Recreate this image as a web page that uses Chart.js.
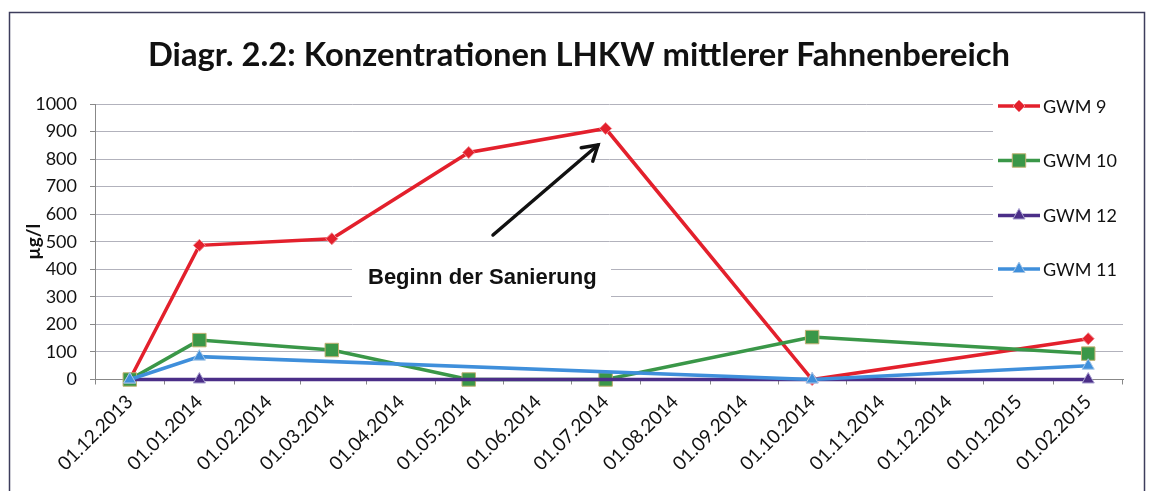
<!DOCTYPE html>
<html><head><meta charset="utf-8">
<script src="https://cdn.jsdelivr.net/npm/chart.js@4.4.1/dist/chart.umd.min.js"></script>
<style>html,body{margin:0;padding:0;background:#fff;overflow:hidden}canvas{display:block}</style>
</head><body>
<canvas id="c" width="1152" height="491"></canvas>
<script>
// ---- data ----
const chartTitle = 'Diagr. 2.2: Konzentrationen LHKW mittlerer Fahnenbereich';
const yAxisTitle = 'µg/l';
const annotationText = 'Beginn der Sanierung';
const tickLabels = ['01.12.2013','01.01.2014','01.02.2014','01.03.2014','01.04.2014','01.05.2014','01.06.2014','01.07.2014','01.08.2014','01.09.2014','01.10.2014','01.11.2014','01.12.2014','01.01.2015','01.02.2015'];
const sampleDates = ['01.12.2013','01.01.2014','01.03.2014','01.05.2014','01.07.2014','01.10.2014','01.02.2015'];
const seriesNames = ['GWM 9','GWM 10','GWM 12','GWM 11'];
const gwm9  = [0, 487, 511, 824, 911, 0, 148];
const gwm10 = [0, 143, 107, 0, 0, 154, 94];
const gwm12 = [0, 0, null, null, null, 0, 0];
const gwm11 = [0, 83, null, null, null, 0, 50];
const yMin = 0, yMax = 1000, yStep = 100;

function dayNum(s){ const p = s.split('.').map(Number); return Date.UTC(p[2], p[1]-1, p[0]) / 86400000; }
function toPoints(vals){ return sampleDates.map((d,i)=>({x: dayNum(d), y: vals[i]})); }

const xMin = dayNum(tickLabels[0]) - 15.5;
const xMax = dayNum(tickLabels[tickLabels.length-1]) + 15.5;

function drawMarker(ctx, style, x, y, r, fill, stroke){
  ctx.save();
  ctx.fillStyle = fill; ctx.strokeStyle = stroke; ctx.lineWidth = 1;
  ctx.beginPath();
  if (style === 'rectRot'){ ctx.moveTo(x, y-r); ctx.lineTo(x+r, y); ctx.lineTo(x, y+r); ctx.lineTo(x-r, y); ctx.closePath(); }
  else if (style === 'rect'){ const s = r*Math.SQRT1_2; ctx.rect(x-s, y-s, 2*s, 2*s); }
  else { ctx.moveTo(x, y-r); ctx.lineTo(x+0.866*r, y+0.5*r); ctx.lineTo(x-0.866*r, y+0.5*r); ctx.closePath(); }
  ctx.fill(); ctx.stroke();
  ctx.restore();
}

const decor = {
  id: 'decor',
  beforeDraw(chart){
    const ctx = chart.ctx;
    ctx.save();
    ctx.fillStyle = '#fff'; ctx.fillRect(0,0,chart.width,chart.height);
    ctx.strokeStyle = '#3d3d5c'; ctx.lineWidth = 1.5;
    ctx.strokeRect(9.5, 12.5, 1135, 490);
    ctx.restore();
  },
  beforeDatasetsDraw(chart){
    const ctx = chart.ctx;
    ctx.save();
    ctx.fillStyle = '#fff';
    ctx.fillRect(352, 256, 259, 50);   // annotation box
    ctx.fillRect(993, 92, 150, 215);   // legend box
    ctx.restore();
  },
  afterDraw(chart){
    const ctx = chart.ctx;
    ctx.save();
    // title
    ctx.fillStyle = '#111';
    ctx.font = 'bold 33px Lato';
    const w = ctx.measureText(chartTitle).width;
    const sx = 862 / w;
    ctx.translate(579, 66); ctx.scale(sx, 1);
    ctx.textAlign = 'center'; ctx.textBaseline = 'alphabetic';
    ctx.fillText(chartTitle, 0, 0);
    ctx.restore();

    // annotation
    ctx.save();
    ctx.fillStyle = '#111';
    ctx.font = 'bold 22px "Liberation Sans"';
    ctx.textAlign = 'left'; ctx.textBaseline = 'alphabetic';
    ctx.fillText(annotationText, 368, 284);
    // arrow
    const x0 = 493, y0 = 235, x1 = 598, y1 = 145;
    ctx.strokeStyle = '#111'; ctx.lineWidth = 3.5; ctx.lineCap = 'round';
    ctx.beginPath(); ctx.moveTo(x0,y0); ctx.lineTo(x1,y1); ctx.stroke();
    const a = Math.atan2(y1-y0, x1-x0), L = 17, sp = 0.55;
    ctx.beginPath();
    ctx.moveTo(x1 - L*Math.cos(a-sp), y1 - L*Math.sin(a-sp));
    ctx.lineTo(x1, y1);
    ctx.lineTo(x1 - L*Math.cos(a+sp), y1 - L*Math.sin(a+sp));
    ctx.stroke();
    ctx.restore();

    // legend
    const rows = [106, 160.5, 215.5, 269];
    ctx.save();
    chart.data.datasets.forEach((ds, i) => {
      const y = rows[i];
      ctx.strokeStyle = ds.borderColor; ctx.lineWidth = ds.borderWidth;
      ctx.beginPath(); ctx.moveTo(998, y); ctx.lineTo(1040, y); ctx.stroke();
      drawMarker(ctx, ds.pointStyle, 1019, y, ds.pointRadius, ds.backgroundColor, ds.pointBorderColor);
      ctx.fillStyle = '#111';
      ctx.font = '18px Lato';
      ctx.textAlign = 'left'; ctx.textBaseline = 'middle';
      ctx.fillText(ds.label, 1043, y + 1);
    });
    ctx.restore();
  }
};

const common = { borderWidth: 3.5, spanGaps: true, tension: 0, clip: false, pointBorderWidth: 1 };

new Chart(document.getElementById('c'), {
  type: 'line',
  data: {
    datasets: [
      Object.assign({ label: seriesNames[0], data: toPoints(gwm9),  borderColor: '#E3202C', backgroundColor: '#E3202C', pointBorderColor: '#f08890', pointStyle: 'rectRot', pointRadius: 6, order: 4 }, common),
      Object.assign({ label: seriesNames[1], data: toPoints(gwm10), borderColor: '#3A9748', backgroundColor: '#3A9748', pointBorderColor: '#c0b070', pointStyle: 'rect', pointRadius: 9.5, order: 3 }, common),
      Object.assign({ label: seriesNames[2], data: toPoints(gwm12), borderColor: '#4B2E88', backgroundColor: '#4B2E88', pointBorderColor: '#a8a0d0', pointStyle: 'triangle', pointRadius: 7, order: 2 }, common),
      Object.assign({ label: seriesNames[3], data: toPoints(gwm11), borderColor: '#3F8FDB', backgroundColor: '#3F8FDB', pointBorderColor: '#a8c8e8', pointStyle: 'triangle', pointRadius: 7, order: 1 }, common)
    ]
  },
  options: {
    responsive: false,
    animation: false,
    events: [],
    layout: { padding: { top: 104, right: 29, bottom: 0, left: 0 } },
    plugins: { legend: { display: false }, title: { display: false }, tooltip: { enabled: false } },
    scales: {
      x: {
        type: 'linear', min: xMin, max: xMax,
        afterBuildTicks: s => { s.ticks = tickLabels.map(t => ({ value: dayNum(t) })); },
        afterFit: s => { s.height = 111.5; },
        ticks: { autoSkip: false, minRotation: 45, maxRotation: 45, padding: 6, color: '#111',
                 font: { family: 'Lato', size: 19 }, callback: (v, i) => tickLabels[i] },
        grid: { drawOnChartArea: false, drawTicks: true, tickLength: 5, offset: true, tickColor: '#888' },
        border: { color: '#888', width: 1 }
      },
      y: {
        min: yMin, max: yMax,
        afterFit: s => { s.width = 95; },
        ticks: { stepSize: yStep, padding: 13, color: '#111', font: { family: 'Lato', size: 18 }, callback: v => String(v) },
        grid: { color: '#b2b2bc', lineWidth: 1, tickLength: 5, tickColor: '#888' },
        border: { color: '#888', width: 1 },
        title: { display: true, text: yAxisTitle, color: '#111', font: { family: 'Lato', size: 19, weight: 'bold' }, padding: { top: 22, bottom: 0 } }
      }
    }
  },
  plugins: [decor]
});
</script>
</body></html>
